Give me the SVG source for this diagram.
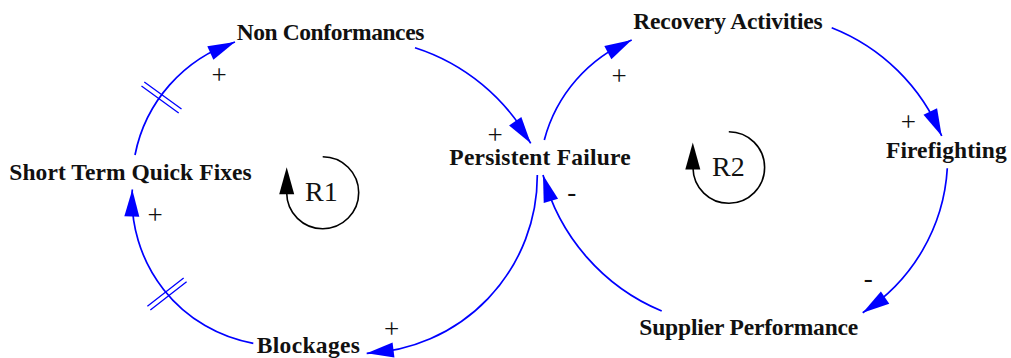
<svg xmlns="http://www.w3.org/2000/svg" xmlns:xlink="http://www.w3.org/1999/xlink" width="1011" height="358" viewBox="0 0 1011 358">
  <style>
    .node { font-family: "Liberation Serif", "Times New Roman", serif; font-weight: bold; font-size: 23.5px; fill: #111; text-anchor: middle; }
    .pol { font-family: "Liberation Serif", "Times New Roman", serif; font-size: 27px; fill: #111; text-anchor: middle; }
    .loopname { font-family: "Liberation Serif", "Times New Roman", serif; font-size: 28px; fill: #111; text-anchor: middle; }
    .link { fill: none; stroke: #0000ff; stroke-width: 1.7; }
    .head { fill: #0000ff; stroke: none; }
    .delay { fill: none; stroke: #0000ff; stroke-width: 1.3; }
    .loop { fill: none; stroke: #000; stroke-width: 1.6; }
    .loophead { fill: #000; stroke: none; }
  </style>
  <defs>
    <path id="ah" d="M0,0 L-27,-7.5 L-27,7.5 Z"/>
    <path id="hash" d="M-23,-2.4 H23 M-23,2.4 H23"/>
  </defs>
  <rect width="1011" height="358" fill="#fff"/>

  <g id="connectors">
    <g id="c-stqf-nc">
      <path class="link" d="M135,155 A149,149 0 0 1 235,42"/>
      <use xlink:href="#ah" class="head" transform="translate(235,42) rotate(-24)"/>
      <use xlink:href="#hash" class="delay" transform="translate(161.5,97.5) rotate(36)"/>
      <text class="pol" x="219" y="84">+</text>
    </g>
    <g id="c-nc-pf">
      <path class="link" d="M415,47.7 A202,202 0 0 1 530.7,143.3"/>
      <use xlink:href="#ah" class="head" transform="translate(530.7,143.3) rotate(55)"/>
      <text class="pol" x="495" y="144">+</text>
    </g>
    <g id="c-pf-bl">
      <path class="link" d="M537.3,175 A177.7,177.7 0 0 1 366.7,353.3"/>
      <use xlink:href="#ah" class="head" transform="translate(366.7,353.3) rotate(173)"/>
      <text class="pol" x="391.7" y="337.5">+</text>
    </g>
    <g id="c-bl-stqf">
      <path class="link" d="M253.3,343.3 A147.2,147.2 0 0 1 132.3,189.5"/>
      <use xlink:href="#ah" class="head" transform="translate(132.3,189.5) rotate(-89)"/>
      <use xlink:href="#hash" class="delay" transform="translate(167,294) rotate(-38)"/>
      <text class="pol" x="155" y="224">+</text>
    </g>
    <g id="c-pf-ra">
      <path class="link" d="M544.3,140 A149.6,149.6 0 0 1 631.7,40"/>
      <use xlink:href="#ah" class="head" transform="translate(631.7,40) rotate(-28)"/>
      <text class="pol" x="619" y="85">+</text>
    </g>
    <g id="c-ra-ff">
      <path class="link" d="M831.7,27.7 A196.7,196.7 0 0 1 941.7,136"/>
      <use xlink:href="#ah" class="head" transform="translate(941.7,136) rotate(65)"/>
      <text class="pol" x="908.3" y="131">+</text>
    </g>
    <g id="c-ff-sp">
      <path class="link" d="M947.3,168.3 A184.3,184.3 0 0 1 862.7,312.7"/>
      <use xlink:href="#ah" class="head" transform="translate(862.7,312.7) rotate(146)"/>
      <text class="pol" x="868.3" y="286.7">-</text>
    </g>
    <g id="c-sp-pf">
      <path class="link" d="M661.7,311 A204,204 0 0 1 543,175"/>
      <use xlink:href="#ah" class="head" transform="translate(543,175) rotate(-107)"/>
      <text class="pol" x="571.7" y="201">-</text>
    </g>
  </g>

  <g id="loop-R1">
    <path class="loop" d="M322.7,156.7 A36,36 0 1 1 286.7,193"/>
    <use xlink:href="#ah" class="loophead" transform="translate(286.7,167.3) rotate(-90)"/>
    <text class="loopname" x="321.4" y="200.7">R1</text>
  </g>
  <g id="loop-R2">
    <path class="loop" d="M728.8,131.7 A35.8,35.8 0 1 1 693,168"/>
    <use xlink:href="#ah" class="loophead" transform="translate(692.8,142.5) rotate(-90)"/>
    <text class="loopname" x="728.4" y="176.2">R2</text>
  </g>

  <g id="node-non-conformances"><text class="node" x="330.5" y="40" textLength="187.6">Non Conformances</text></g>
  <g id="node-recovery-activities"><text class="node" x="728" y="29" textLength="189.4">Recovery Activities</text></g>
  <g id="node-short-term-quick-fixes"><text class="node" x="130.5" y="180" textLength="242.4">Short Term Quick Fixes</text></g>
  <g id="node-persistent-failure"><text class="node" x="540" y="164.8" textLength="181.3">Persistent Failure</text></g>
  <g id="node-firefighting"><text class="node" x="946.3" y="158.3" textLength="120.7">Firefighting</text></g>
  <g id="node-blockages"><text class="node" x="308.3" y="353.3" textLength="103.3">Blockages</text></g>
  <g id="node-supplier-performance"><text class="node" x="748.8" y="335" textLength="219">Supplier Performance</text></g>
</svg>
